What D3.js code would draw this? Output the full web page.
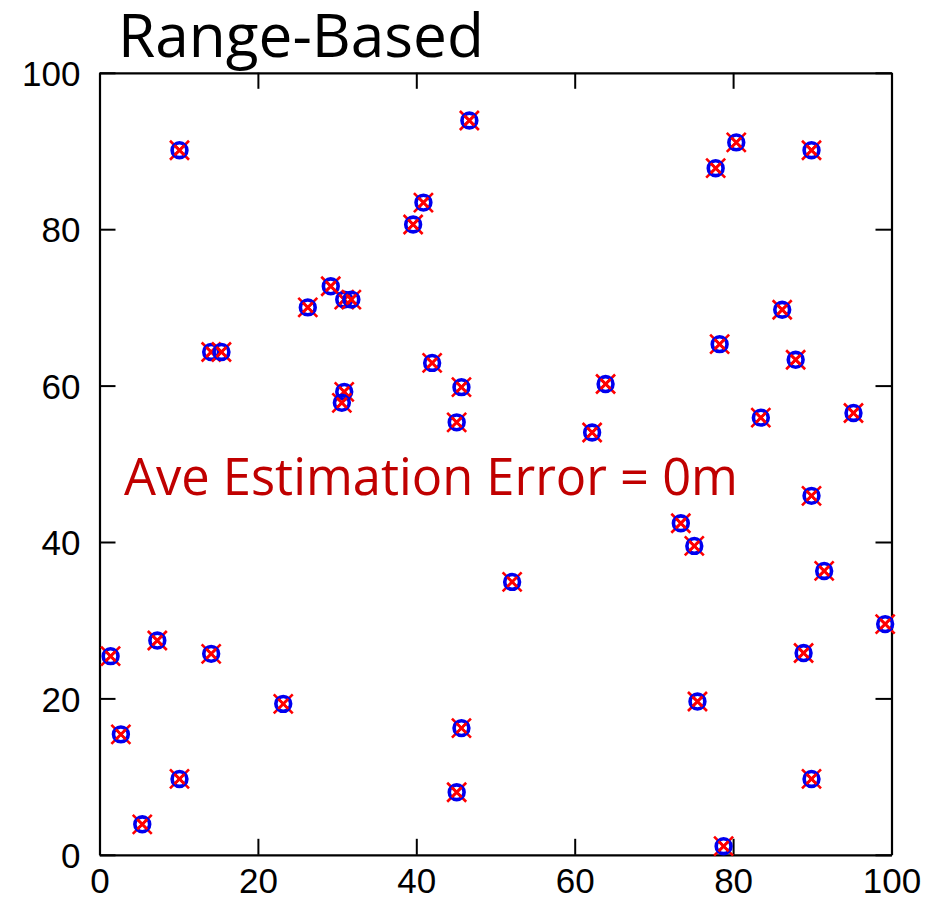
<!DOCTYPE html>
<html>
<head>
<meta charset="utf-8">
<script src="https://cdn.jsdelivr.net/npm/d3@7"></script>
<style>
  html, body { margin: 0; padding: 0; background: #fff; }
  svg { display: block; }
</style>
</head>
<body>
<svg id="chart" width="929" height="903"></svg>
<script>
// Node coordinates (x, y) in metres; estimated positions coincide with true ones
const nodeX = [10.1, 46.7, 80.4, 77.8, 89.9, 40.9, 39.6, 29.2, 26.3, 30.9, 31.8,
               14.1, 15.4, 42.0, 30.9, 30.6, 45.7, 45.1, 63.9, 62.2, 78.3, 86.2,
               87.9, 83.5, 95.2, 89.9, 91.5, 73.4, 75.1, 99.2, 88.9, 75.5, 89.9,
               78.8, 52.1, 45.7, 45.1, 23.2, 14.1, 7.3, 1.4, 2.7, 10.1, 5.4];
const nodeY = [90.1, 93.9, 91.1, 87.8, 90.1, 83.4, 80.6, 72.7, 70.0, 71.0, 71.0,
               64.3, 64.3, 62.9, 59.2, 57.8, 59.8, 55.3, 60.2, 54.0, 65.3, 69.7,
               63.3, 55.9, 56.5, 45.9, 36.3, 42.4, 39.5, 29.5, 25.8, 19.6, 9.7,
               1.1, 34.9, 16.2, 8.0, 19.3, 25.7, 27.4, 25.4, 15.4, 9.7, 3.9];
const xTicks = [0, 20, 40, 60, 80, 100];
const yTicks = [0, 20, 40, 60, 80, 100];
const titleText = "Range-Based";
const errorText = "Ave Estimation Error = 0m";

const svg = d3.select("#chart");
const plot = { left: 99.5, right: 891.5, top: 72.8, bottom: 854.8 };

const x = d3.scaleLinear().domain([0, 100]).range([plot.left, plot.right]);
const y = d3.scaleLinear().domain([0, 100]).range([plot.bottom, plot.top]);

const tickFont = "'Liberation Sans', Arial, sans-serif";
const tickLen = 16;

// Axes on all four sides with inward ticks
const axisStyle = g => {
  g.selectAll(".domain").attr("stroke", "#000").attr("stroke-width", 2.2);
  g.selectAll(".tick line").attr("stroke", "#000").attr("stroke-width", 2);
  g.selectAll(".tick text").attr("font-family", tickFont).attr("font-size", 35).attr("fill", "#000");
};

svg.append("g")
  .attr("transform", `translate(0,${plot.bottom})`)
  .call(d3.axisBottom(x).tickValues(xTicks).tickSizeInner(-tickLen).tickSizeOuter(0).tickPadding(10))
  .call(axisStyle)
  .call(g => g.selectAll(".tick text").attr("dy", "0.71em").attr("y", 13));

svg.append("g")
  .attr("transform", `translate(0,${plot.top})`)
  .call(d3.axisTop(x).tickValues(xTicks).tickSizeInner(-tickLen).tickSizeOuter(0).tickFormat(""))
  .call(axisStyle);

svg.append("g")
  .attr("transform", `translate(${plot.left},0)`)
  .call(d3.axisLeft(y).tickValues(yTicks).tickSizeInner(-tickLen).tickSizeOuter(0))
  .call(axisStyle)
  .call(g => g.selectAll(".tick text").attr("x", -19).attr("dy", "0.36em"));

svg.append("g")
  .attr("transform", `translate(${plot.right},0)`)
  .call(d3.axisRight(y).tickValues(yTicks).tickSizeInner(-tickLen).tickSizeOuter(0).tickFormat(""))
  .call(axisStyle);

// Node markers: red cross (estimate) under blue circle (true position)
const nodes = d3.range(nodeX.length).map(i => ({ x: nodeX[i], y: nodeY[i] }));
const marks = svg.append("g").selectAll("g.node")
  .data(nodes)
  .join("g")
  .attr("class", "node")
  .attr("transform", d => `translate(${x(d.x)},${y(d.y)})`);

const s = 9.5;
marks.append("path")
  .attr("d", `M${-s},${-s}L${s},${s}M${-s},${s}L${s},${-s}`)
  .attr("stroke", "#ff0000")
  .attr("stroke-width", 2.6)
  .attr("fill", "none");

marks.append("circle")
  .attr("r", 7.4)
  .attr("fill", "none")
  .attr("stroke", "#0000f0")
  .attr("stroke-width", 3.6);

marks.append("path")
  .attr("d", `M-5,-5L5,5M-5,5L5,-5`)
  .attr("stroke", "#ff0000")
  .attr("stroke-width", 2.8)
  .attr("fill", "none");

// Text fitted to a target width
function fitText(sel, targetWidth) {
  const w = sel.node().getComputedTextLength();
  const fs = parseFloat(sel.attr("font-size"));
  sel.attr("font-size", fs * targetWidth / w);
}

const labelFont = "'Open Sans', 'Noto Sans', sans-serif";

const title = svg.append("text")
  .attr("x", 118).attr("y", 57)
  .attr("font-family", labelFont)
  .attr("font-size", 56)
  .attr("fill", "#000")
  .text(titleText);
fitText(title, 366);

const err = svg.append("text")
  .attr("x", 124).attr("y", 495)
  .attr("font-family", labelFont)
  .attr("font-size", 50)
  .attr("fill", "#c00000")
  .text(errorText);
fitText(err, 614);
</script>
</body>
</html>
